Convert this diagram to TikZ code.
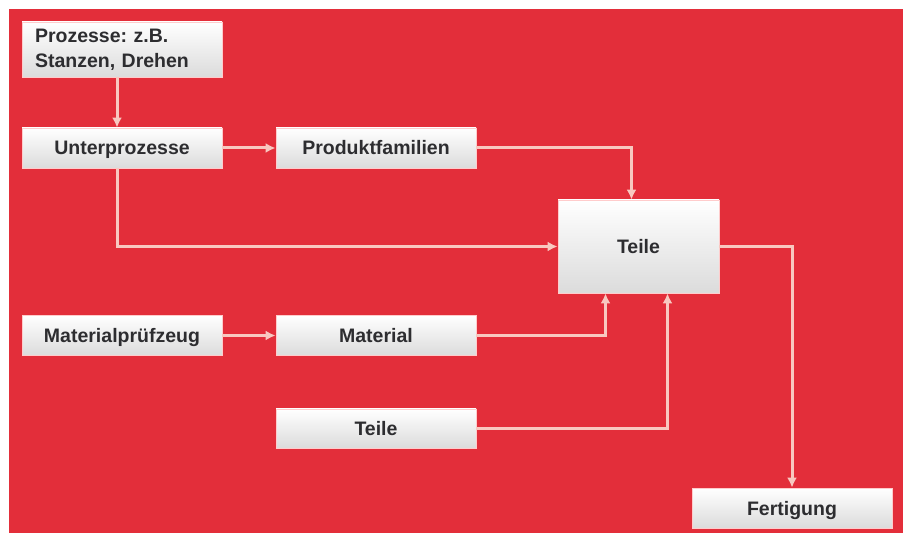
\documentclass[tikz,border=0pt]{standalone}
\usepackage{fontspec}
\setmainfont{Liberation Sans}
\usepackage{xcolor}
\usepackage{tikz}
\usetikzlibrary{arrows.meta}
\frenchspacing

\definecolor{bgred}{RGB}{227,46,58}
\definecolor{linepink}{RGB}{248,200,192}
\definecolor{boxtext}{RGB}{45,45,48}

\tikzset{
    box/.style={rectangle, inner sep=0pt, minimum width=200pt, minimum height=40pt,
        text height=14pt, text depth=0pt,
        top color=white, bottom color=black!14, draw=white!80!red, line width=0.8pt,
        text=boxtext, font=\fontsize{19.5}{25}\selectfont\bfseries},
    link/.style={draw=linepink, line width=3pt,
        -{Latex[length=10pt,width=10pt,fill=linepink]}}
}

\begin{document}
\begin{tikzpicture}[x=1pt, y=-1pt]
        \useasboundingbox (0,0) rectangle (908,534);
        \fill[bgred] (9,9) rectangle (903,533);

        \node[box, minimum height=55pt, text height=, text depth=, text width=174pt, inner xsep=13pt, align=left] (proz) at (122,49.5) {Prozesse: z.B.\\Stanzen, Drehen};
        \node[box] (unter) at (122,148) {Unterprozesse};
        \node[box] (prod) at (376,148) {Produktfamilien};
        \node[box, minimum width=161pt, minimum height=93pt] (teile) at (638.5,246.5) {Teile};
        \node[box] (mpz) at (122,335.5) {Materialprüfzeug};
        \node[box] (mat) at (376,335.5) {Material};
        \node[box, minimum height=39pt] (teil) at (376,428.5) {Teile};
        \node[box] (fert) at (792,508) {Fertigung};

        % Prozesse -> Unterprozesse
        \draw[link] ([xshift=-5pt]proz.south) -- ([xshift=-5pt]unter.north);
        % Unterprozesse -> Produktfamilien
        \draw[link] (unter) -- (prod);
        % Unterprozesse -> Teile
        \draw[link] ([xshift=-5pt]unter.south) |- (teile.west);
        % Produktfamilien -> Teile
        \draw[link] (prod.east) -| ([xshift=-7pt]teile.north);

        % Materialpruefzeug -> Material
        \draw[link] (mpz) -- (mat);
        % Material, Teile -> Teile
        \draw[link] (mat.east) -| ([xshift=-33pt]teile.south);
        \draw[link] (teil.east) -| ([xshift=29pt]teile.south);

        % Teile -> Fertigung
        \draw[link] (teile.east) -| (fert.north);
    \end{tikzpicture}
\end{document}
